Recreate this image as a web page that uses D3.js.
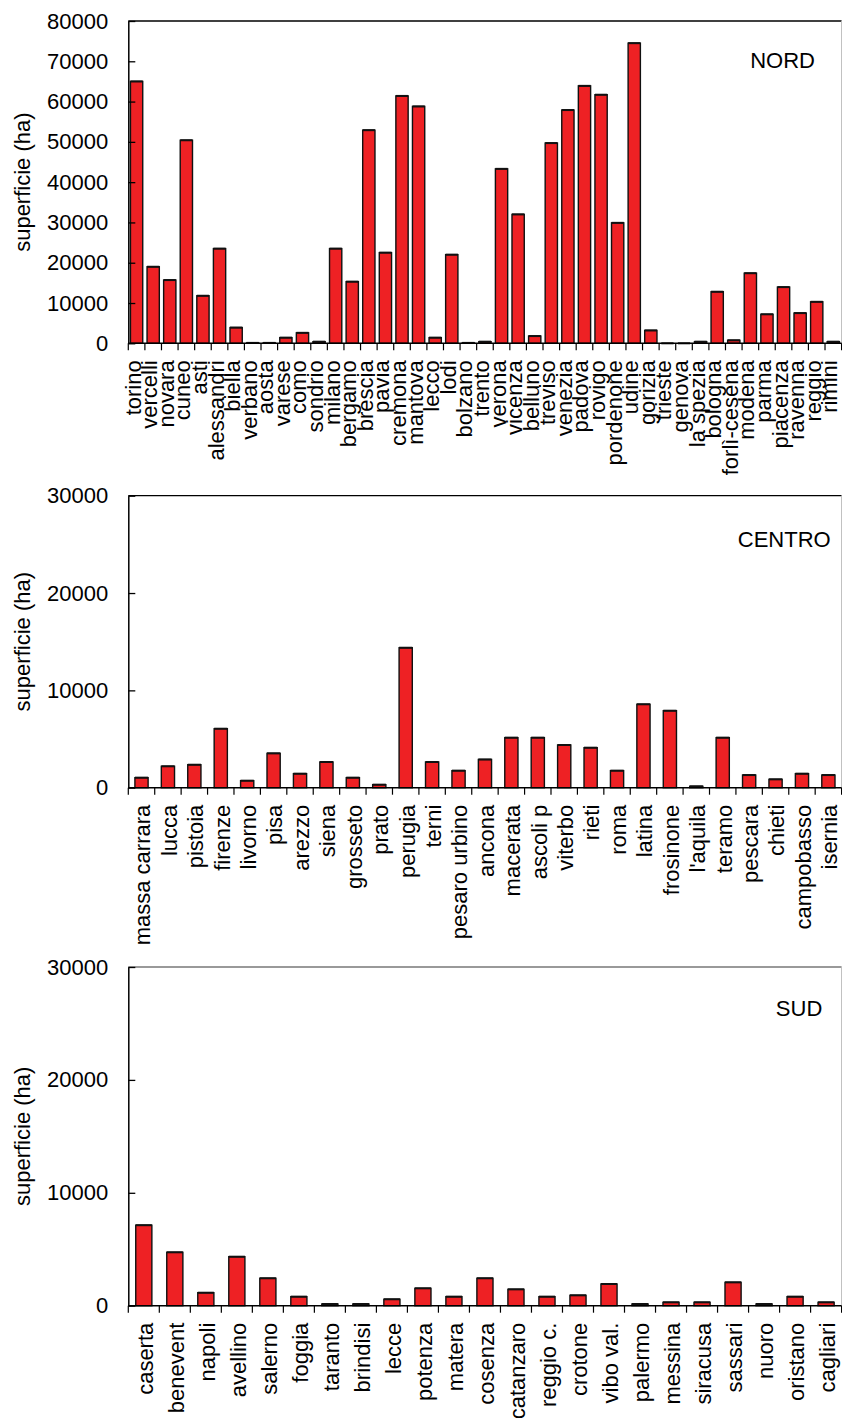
<!DOCTYPE html>
<html>
<head>
<meta charset="utf-8">
<script src="https://cdn.jsdelivr.net/npm/d3@7"></script>
<style>
  html, body { margin: 0; padding: 0; background: #fff; }
  svg { display: block; }
  text { font-family: Arial, "Liberation Sans", sans-serif; fill: #000; }
</style>
</head>
<body>
<svg id="chart" width="842" height="1418"></svg>
<script>
// Province names and cultivated surface (ha), grouped by macro-region
const nordProvince = ["torino", "vercelli", "novara", "cuneo", "asti", "alessandri", "biella", "verbano", "aosta", "varese", "como", "sondrio", "milano", "bergamo", "brescia", "pavia", "cremona", "mantova", "lecco", "lodi", "bolzano", "trento", "verona", "vicenza", "belluno", "treviso", "venezia", "padova", "rovigo", "pordenone", "udine", "gorizia", "trieste", "genova", "la spezia", "bologna", "forlì-cesena", "modena", "parma", "piacenza", "ravenna", "reggio", "rimini"];
const nordSuperficie = [65000, 19000, 15700, 50400, 11800, 23500, 3900, 100, 100, 1400, 2600, 400, 23500, 15300, 52900, 22500, 61400, 58800, 1400, 22000, 100, 400, 43300, 32000, 1800, 49700, 57900, 63900, 61700, 29900, 74500, 3200, 0, 0, 400, 12800, 750, 17400, 7200, 13950, 7500, 10300, 400];

const centroProvince = ["massa carrara", "lucca", "pistoia", "firenze", "livorno", "pisa", "arezzo", "siena", "grosseto", "prato", "perugia", "terni", "pesaro urbino", "ancona", "macerata", "ascoli p", "viterbo", "rieti", "roma", "latina", "frosinone", "l'aquila", "teramo", "pescara", "chieti", "campobasso", "isernia"];
const centroSuperficie = [1030, 2200, 2360, 6060, 720, 3530, 1440, 2640, 1030, 310, 14380, 2640, 1750, 2900, 5140, 5140, 4390, 4110, 1750, 8570, 7910, 140, 5140, 1300, 860, 1440, 1300];

const sudProvince = ["caserta", "benevent", "napoli", "avellino", "salerno", "foggia", "taranto", "brindisi", "lecce", "potenza", "matera", "cosenza", "catanzaro", "reggio c.", "crotone", "vibo val.", "palermo", "messina", "siracusa", "sassari", "nuoro", "oristano", "cagliari"];
const sudSuperficie = [7130, 4730, 1150, 4340, 2430, 800, 150, 150, 570, 1540, 800, 2430, 1450, 800, 920, 1920, 150, 300, 300, 2070, 150, 800, 300];

const yTicksNord = [0, 10000, 20000, 30000, 40000, 50000, 60000, 70000, 80000];
const yTicksSud = [0, 10000, 20000, 30000];

const asseY = "superficie (ha)";

// Panel layout
const left = 128.3, right = 841.6;
const panels = [
  { name: "NORD", cats: nordProvince, vals: nordSuperficie, ticks: yTicksNord,
    top: 21, bottom: 343.3, barPad: 0.26, labelDy: "0.18em", nameX: 815, nameY: 67.5, frame: "#000" },
  { name: "CENTRO", cats: centroProvince, vals: centroSuperficie, ticks: yTicksSud,
    top: 495.7, bottom: 787.7, barPad: 0.5, labelDy: "0.4em", nameX: 830.7, nameY: 547.3, frame: "#000" },
  { name: "SUD", cats: sudProvince, vals: sudSuperficie, ticks: yTicksSud,
    top: 967, bottom: 1305.7, barPad: 0.48, labelDy: "0.4em", nameX: 822.3, nameY: 1016, frame: "#777" }
];

const svg = d3.select("#chart");
const FONT = 22;

panels.forEach(p => {
  const g = svg.append("g");
  const data = p.cats.map((c, i) => ({ cat: c, val: p.vals[i] }));

  const y = d3.scaleLinear().domain([0, d3.max(p.ticks)]).range([p.bottom, p.top]);
  // category slots (tick boundaries) and centred bars within each slot
  const xSlot = d3.scaleBand().domain(p.cats).range([left, right]).padding(0);
  const xBar = d3.scaleBand().domain(p.cats).range([left, right])
    .paddingInner(p.barPad).paddingOuter(p.barPad / 2);

  // frame: top and right edges
  g.append("line").attr("x1", left).attr("x2", right).attr("y1", p.top).attr("y2", p.top)
    .attr("stroke", p.frame).attr("stroke-width", 1.3);
  g.append("line").attr("x1", right).attr("x2", right).attr("y1", p.top).attr("y2", p.bottom)
    .attr("stroke", "#bbb").attr("stroke-width", 1);

  // bars
  g.append("g").selectAll("rect").data(data).join("rect")
    .attr("x", d => xBar(d.cat))
    .attr("width", xBar.bandwidth())
    .attr("y", d => y(d.val))
    .attr("height", d => p.bottom - y(d.val))
    .attr("fill", "#ee2124")
    .attr("stroke", "#111")
    .attr("stroke-width", 1.4);
  // darker cap on each bar top
  g.append("g").selectAll("line").data(data).join("line")
    .attr("x1", d => xBar(d.cat))
    .attr("x2", d => xBar(d.cat) + xBar.bandwidth())
    .attr("y1", d => y(d.val))
    .attr("y2", d => y(d.val))
    .attr("stroke", "#111")
    .attr("stroke-width", 2);

  // y axis with inward ticks
  const yAxis = d3.axisLeft(y).tickValues(p.ticks).tickFormat(d3.format("d"))
    .tickSizeInner(-7).tickSizeOuter(0).tickPadding(20);
  const ya = g.append("g").attr("transform", `translate(${left},0)`).call(yAxis);
  ya.select(".domain").attr("stroke", "#000").attr("stroke-width", 1.5);
  ya.selectAll(".tick line").attr("stroke", "#000").attr("stroke-width", 1.3);
  ya.selectAll(".tick text").attr("font-size", FONT).attr("font-family", "Arial, 'Liberation Sans', sans-serif");

  // x axis baseline and slot boundary ticks
  g.append("line").attr("x1", left).attr("x2", right).attr("y1", p.bottom).attr("y2", p.bottom)
    .attr("stroke", "#000").attr("stroke-width", 1.5);
  const bounds = p.cats.map(c => xSlot(c)).concat([xSlot.range()[1]]);
  g.append("g").selectAll("line").data(bounds).join("line")
    .attr("x1", d => d).attr("x2", d => d)
    .attr("y1", p.bottom).attr("y2", p.bottom + 7)
    .attr("stroke", "#000").attr("stroke-width", 1.2);

  // rotated category labels
  g.append("g").selectAll("text").data(p.cats).join("text")
    .attr("transform", d => `translate(${xSlot(d) + xSlot.bandwidth() / 2},${p.bottom + 17}) rotate(-90)`)
    .attr("text-anchor", "end")
    .attr("dy", p.labelDy)
    .attr("font-size", FONT)
    .text(d => d);

  // y axis title
  g.append("text")
    .attr("transform", `translate(30,${(p.top + p.bottom) / 2}) rotate(-90)`)
    .attr("text-anchor", "middle")
    .attr("font-size", FONT)
    .text(asseY);

  // region name
  g.append("text")
    .attr("x", p.nameX).attr("y", p.nameY)
    .attr("text-anchor", "end")
    .attr("font-size", FONT)
    .text(p.name);
});
</script>
</body>
</html>
